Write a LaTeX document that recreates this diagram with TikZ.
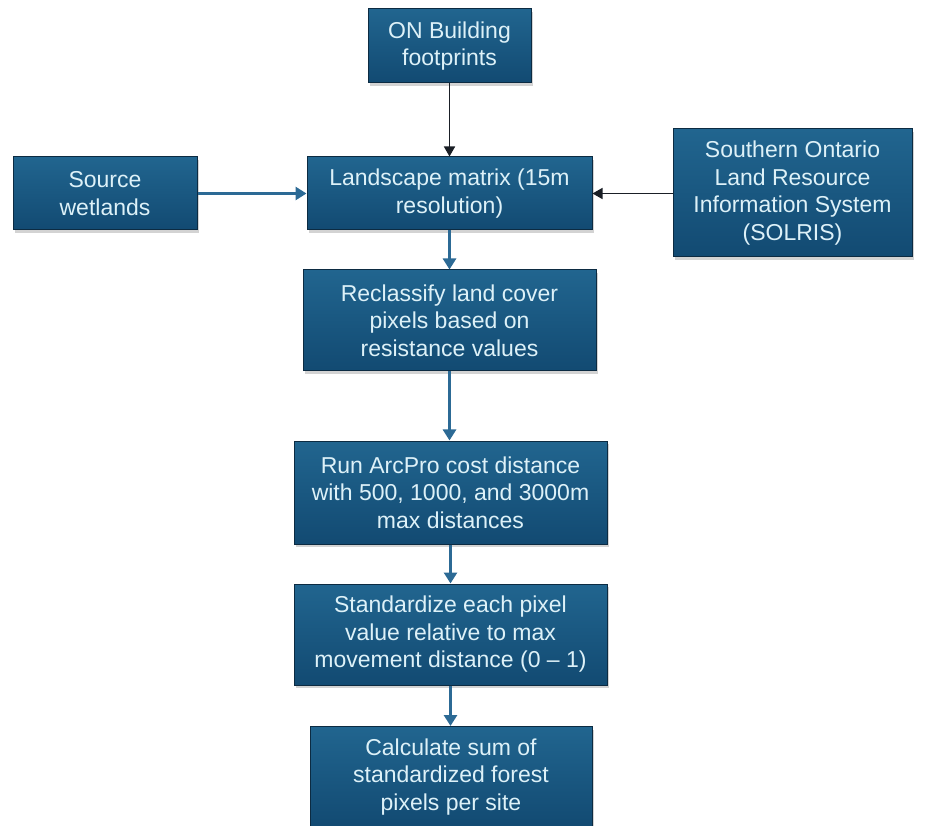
\documentclass[tikz,border=0pt]{standalone}
\usepackage{fontspec}
\setmainfont{Liberation Sans}
\usetikzlibrary{arrows.meta,shadows}
\definecolor{boxtop}{HTML}{21658F}
\definecolor{boxbot}{HTML}{124A72}
\definecolor{boxline}{HTML}{0C2B42}
\definecolor{boxtext}{HTML}{DDF1F8}
\definecolor{arrblue}{HTML}{2C6A95}
\definecolor{arrdark}{HTML}{1A1F26}
\tikzset{
  flowbox/.style={draw=boxline, line width=1pt, top color=boxtop, bottom color=boxbot,
    text=boxtext, align=center, inner sep=0pt, font=\fontsize{23}{27.5}\selectfont,
    drop shadow={opacity=0.35, shadow xshift=2pt, shadow yshift=-3pt}},
  bluearrow/.style={draw=arrblue, line width=3.5pt, -{Triangle[length=11pt,width=13pt]}},
  darkarrow/.style={draw=arrdark, line width=1.6pt, -{Triangle[length=10pt,width=11pt]}}
}
\begin{document}
\begin{tikzpicture}[x=1pt,y=-1pt]
\useasboundingbox (0,0) rectangle (927,826);
\node[flowbox, minimum width=163pt, minimum height=74pt] (on) at (449.5,46) {ON Building\\footprints};
\node[flowbox, minimum width=285pt, minimum height=73pt] (land) at (449.5,193.5) {Landscape matrix (15m\\resolution)};
\node[flowbox, minimum width=184pt, minimum height=73pt] (src) at (105,193.5) {Source\\wetlands};
\node[flowbox, minimum width=239pt, minimum height=128pt] (sol) at (792.5,193) {Southern Ontario\\Land Resource\\Information System\\(SOLRIS)};
\node[flowbox, minimum width=293pt, minimum height=101pt] (recl) at (449.5,320.5) {Reclassify land cover\\pixels based on\\resistance values};
\node[flowbox, minimum width=313pt, minimum height=103pt] (run) at (450.5,492.5) {Run ArcPro cost distance\\with 500, 1000, and 3000m\\max distances};
\node[flowbox, minimum width=313pt, minimum height=101pt] (std) at (450.5,634.5) {Standardize each pixel\\value relative to max\\movement distance (0 -- 1)};
\node[flowbox, minimum width=282pt, minimum height=101pt] (calc) at (451,777) {Calculate sum of\\standardized forest\\pixels per site};
\draw[darkarrow] (on.south) -- (land.north);
\draw[bluearrow] (src.east) -- (land.west);
\draw[darkarrow] (sol.west |- land.east) -- (land.east);
\draw[bluearrow] (land.south) -- (recl.north);
\draw[bluearrow] (recl.south) -- (recl.south |- run.north);
\draw[bluearrow] (run.south) -- (std.north);
\draw[bluearrow] (std.south) -- (std.south |- calc.north);
\end{tikzpicture}
\end{document}
